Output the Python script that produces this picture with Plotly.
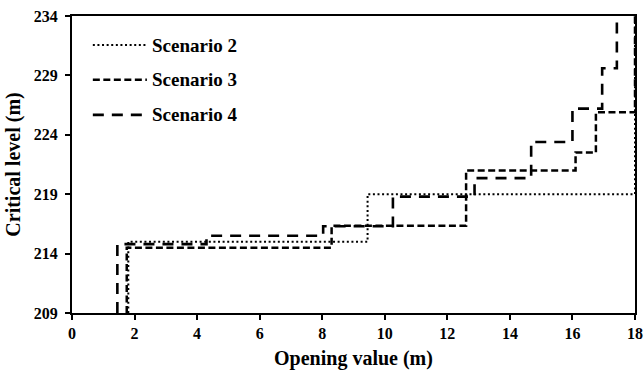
import plotly.graph_objects as go

# Step curves: each entry is a corner of the staircase (horizontal first, then vertical)
scenario2_opening = [1.8, 1.8, 9.45, 18.0]
scenario2_level = [209.0, 215.0, 219.0, 234.0]

scenario3_opening = [1.75, 1.75, 8.3, 12.6, 16.1, 16.75, 18.0]
scenario3_level = [209.0, 214.5, 216.35, 221.0, 222.5, 225.9, 234.0]

scenario4_opening = [1.45, 1.45, 4.3, 8.03, 10.26, 12.87, 14.68, 16.0, 16.95, 17.42]
scenario4_level = [209.0, 214.8, 215.5, 216.3, 218.8, 220.35, 223.4, 226.2, 229.6, 234.0]

series_names = ["Scenario 2", "Scenario 3", "Scenario 4"]
x_ticks = list(range(0, 19, 2))
y_ticks = [209, 214, 219, 224, 229, 234]

FONT = "Liberation Serif"

styles = [
    dict(width=2, dash="2px,2.6px"),
    dict(width=2.5, dash="7px,3.5px"),
    dict(width=2.6, dash="11px,8px"),
]

fig = go.Figure()
for i, (xs, ys) in enumerate([
    (scenario2_opening, scenario2_level),
    (scenario3_opening, scenario3_level),
    (scenario4_opening, scenario4_level),
]):
    fig.add_trace(go.Scatter(
        x=xs, y=ys, mode="lines", name=series_names[i], showlegend=False,
        line=dict(color="black", shape="hv", **styles[i]),
    ))

# Key drawn in the upper-left corner of the plot area
key_rows = [0.902, 0.785, 0.667]
for i, name in enumerate(series_names):
    fig.add_shape(type="line", xref="paper", yref="paper",
                  x0=0.037, x1=0.133, y0=key_rows[i], y1=key_rows[i],
                  line=dict(color="black", **styles[i]))
    fig.add_annotation(xref="paper", yref="paper", x=0.139, y=key_rows[i],
                       xanchor="left", yanchor="middle", showarrow=False,
                       text=f"<b>{name}</b>",
                       font=dict(family=FONT, size=19, color="black"))

axis_common = dict(
    showgrid=False, zeroline=False, showline=True, linecolor="black",
    linewidth=2, mirror=True, ticks="outside", ticklen=5, tickwidth=1.5,
    tickcolor="black", automargin=False,
    tickfont=dict(family=FONT, size=16, color="black", weight="bold"),
)

fig.update_layout(
    width=644, height=376,
    margin=dict(l=72, r=9, t=16, b=63),
    paper_bgcolor="white", plot_bgcolor="white",
    font=dict(family=FONT, color="black"),
    showlegend=False,
    xaxis=dict(range=[0, 18], tickvals=x_ticks, **axis_common,
               title=dict(text="<b>Opening value (m)</b>",
                          font=dict(family=FONT, size=20), standoff=10)),
    yaxis=dict(range=[209, 234], tickvals=y_ticks, **axis_common,
               ticklabelstandoff=4,
               title=dict(text="<b>Critical level (m)</b>",
                          font=dict(family=FONT, size=20), standoff=8)),
)

fig.write_html("out.html")
